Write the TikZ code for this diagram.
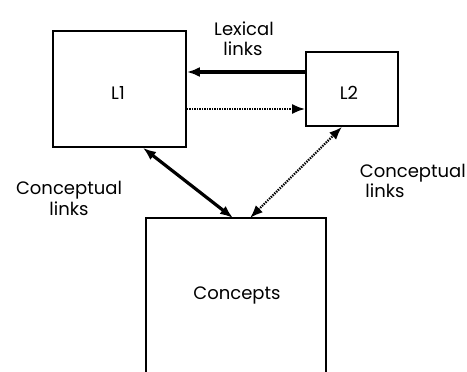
\documentclass[tikz,border=0pt]{standalone}
\usepackage{fontspec}
\setmainfont{Poppins}
\usetikzlibrary{arrows.meta}
\begin{document}
\begin{tikzpicture}[x=1pt,y=-1pt,
  box/.style={draw,line width=1.7pt,inner sep=0pt},
  lbl/.style={font=\fontsize{18}{21}\selectfont,inner sep=0pt},
  tip/.style={-{Latex[length=13pt,width=10pt]}},
  bothtip/.style={{Latex[length=13pt,width=10pt]}-{Latex[length=13pt,width=10pt]}},
  dots/.style={line width=2.2pt,dash pattern=on 1.4pt off 1.1pt}]
\useasboundingbox (0,0) rectangle (467,372);
\begin{scope}
\clip (0,0) rectangle (467,372);
\node[box,minimum width=133pt,minimum height=116pt] (l1) at (119.5,89) {};
\node[box,minimum width=92pt,minimum height=74pt] (l2) at (352,89) {};
\node[box,minimum width=180pt,minimum height=190pt] (con) at (236,313) {};
\end{scope}
\node[lbl] (t1) at (118,93) {L1};
\node[lbl] (t2) at (349,93) {L2};
\node[lbl] (tc) at (237,295) {Concepts};
\node[lbl] (lex1) at (244,29) {Lexical};
\node[lbl] (lex2) at (243,49) {links};
\node[lbl] (cl1) at (69,190) {Conceptual};
\node[lbl] (cl2) at (69,209) {links};
\node[lbl,anchor=east] (cr1) at (466,173) {Conceptual};
\node[lbl] (cr2) at (385,191) {links};
\draw[tip,line width=3.2pt] ([yshift=17pt]l2.west) -- ([yshift=17pt]l2.west -| l1.east);
\draw[tip,dots] ([yshift=-20pt]l1.east) -- ([yshift=-20pt]l1.east -| l2.west);
\draw[bothtip,line width=3.2pt] ([xshift=23.5pt]l1.south) -- ([xshift=-3pt]con.north |- 0,218);
\draw[bothtip,dots] ([xshift=14pt]con.north |- 0,218) -- ([xshift=-10pt]l2.south);
\end{tikzpicture}
\end{document}
